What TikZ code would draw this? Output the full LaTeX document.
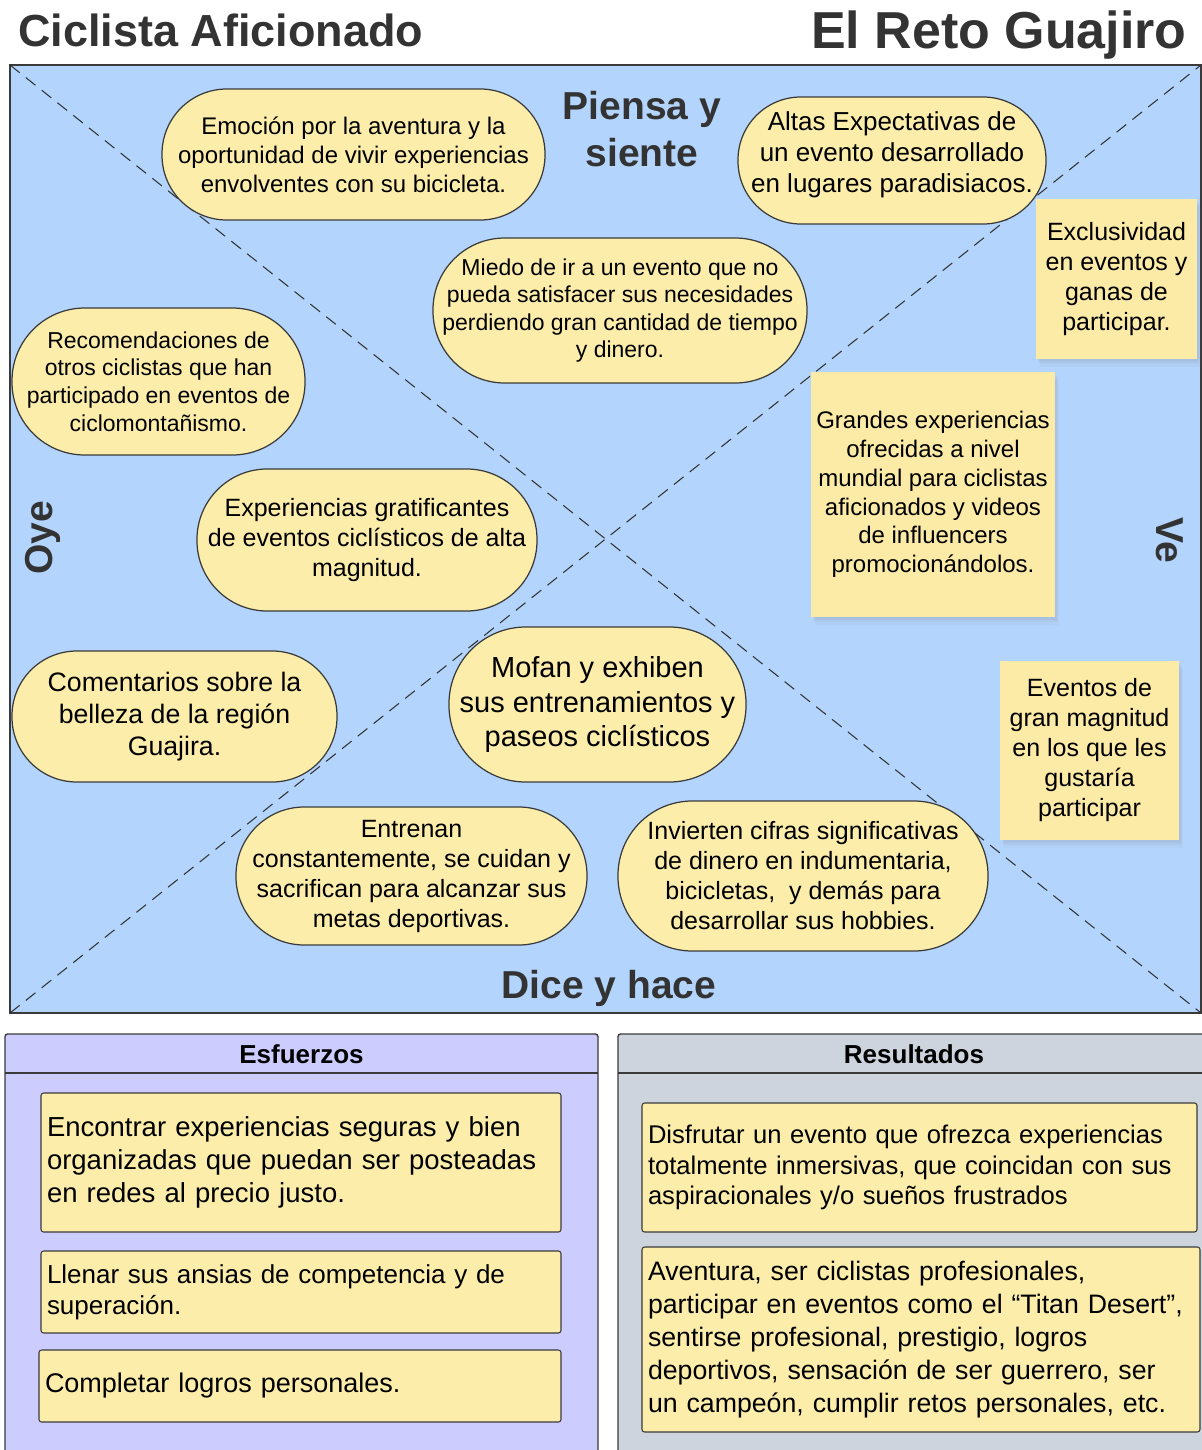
\documentclass[tikz,border=0pt]{standalone}
\usepackage{fontspec}
\setmainfont{Liberation Sans}
\usepackage{xfp}
\usetikzlibrary{shadows,calc}
\definecolor{mapInk}{HTML}{333333}
\definecolor{mapLine}{HTML}{3A3A3A}
\definecolor{mapBlueFill}{HTML}{B3D4FC}
\definecolor{mapBubbleFill}{HTML}{FCEEAA}
\definecolor{mapNoteFill}{HTML}{FCEBA6}
\definecolor{mapLilacFill}{HTML}{CCCCFF}
\definecolor{mapGreyFill}{HTML}{CDD4DE}
% font size in pixels of the sheet (1 px = 0.02 cm), line height 1.2
\newcommand\pxfont[1]{\fontsize{\fpeval{#1*0.569}}{\fpeval{#1*0.683}}\selectfont}
\tikzset{
  map/base/.style={text=black, align=center, inner sep=0pt},
  map/bubble/.style 2 args={map/base, draw=mapLine, line width=0.7pt,
    fill=mapBubbleFill, minimum width=#1*0.02cm, minimum height=#2*0.02cm,
    rounded corners=#2*0.0099cm},
  map/note/.style 2 args={map/base, fill=mapNoteFill,
    minimum width=#1*0.02cm, minimum height=#2*0.02cm,
    drop shadow={shadow xshift=1pt, shadow yshift=-1.5pt, opacity=0.08},
    drop shadow={shadow xshift=1.5pt, shadow yshift=-3pt, opacity=0.08},
    drop shadow={shadow xshift=2pt, shadow yshift=-4.5pt, opacity=0.06}},
  map/card/.style 2 args={draw=mapLine, line width=0.6pt, fill=mapBubbleFill,
    rounded corners=1.5pt, align=left, inner xsep=0.12cm, inner ysep=0pt,
    text width=#1*0.02cm-0.24cm, minimum height=#2*0.02cm},
  map/heading/.style={font=\bfseries\pxfont{39}, text=mapInk, align=center,
    inner sep=0pt},
  map/title/.style={font=\bfseries\pxfont{45}, text=mapInk, inner sep=0pt},
  map/panelhead/.style={font=\bfseries\pxfont{26}, text=black, inner sep=0pt},
  map/frame/.style={draw=mapLine, line width=0.8pt},
  map/diag/.style={draw=mapInk, line width=0.6pt, dash pattern=on 7pt off 4.5pt},
}

\begin{document}
\begin{tikzpicture}[x=0.02cm, y=-0.02cm]
\useasboundingbox (0,0) rectangle (1201,1450);
% titles
\node[map/title, anchor=base west] (persona) at (18,46) {Ciclista Aficionado};
\node[map/title, anchor=base east, font=\bfseries\pxfont{52}] (reto) at (1187,49) {El Reto Guajiro};

% empathy map quadrants
\coordinate (nw) at (10,65);
\coordinate (ne) at (1201,65);
\coordinate (sw) at (10,1013);
\coordinate (se) at (1201,1013);
\draw[map/frame, fill=mapBlueFill] (nw) rectangle (se);
\draw[map/diag] (nw) -- (se);
\draw[map/diag] (sw) -- (ne);

\node[map/heading] (piensa) at (642,129) {Piensa y\\siente};
\node[map/heading, anchor=base] (dice) at (609,998) {Dice y hace};
\node[map/heading, rotate=90] (oye) at (43,538) {Oye};
\node[map/heading, rotate=-90] (ve) at (1170,540) {Ve};

% thoughts and sayings
\node[map/bubble={383}{131}, font=\pxfont{24}] (emocion) at (353.5,154.5)
  {Emoción por la aventura y la\\oportunidad de vivir experiencias\\envolventes con su bicicleta.};
\node[map/bubble={308}{127}, font=\pxfont{26}] (altas) at (892,160.5)
  {Altas Expectativas de\\un evento desarrollado\\en lugares paradisiacos.\\[-8.5pt]\mbox{}};
\node[map/bubble={374}{145}, font=\pxfont{23}] (miedo) at (620,310.5)
  {Miedo de ir a un evento que no\\pueda satisfacer sus necesidades\\perdiendo gran cantidad de tiempo\\y dinero.};
\node[map/bubble={293}{147}, font=\pxfont{23}] (recomienda) at (158.5,381.5)
  {Recomendaciones de\\otros ciclistas que han\\participado en eventos de\\ciclomontañismo.};
\node[map/bubble={340}{142}, font=\pxfont{25}] (gratifica) at (367,540)
  {Experiencias gratificantes\\de eventos ciclísticos de alta\\magnitud.};
\node[map/bubble={325}{131}, font=\pxfont{26.7}] (belleza) at (174.5,716.5)
  {Comentarios sobre la\\belleza de la región\\Guajira.};
\node[map/bubble={297}{155}, font=\pxfont{29}] (mofan) at (597.5,704.5)
  {Mofan y exhiben\\sus entrenamientos y\\paseos ciclísticos};
\node[map/bubble={351}{138}, font=\pxfont{25}] (entrenan) at (411.5,876)
  {Entrenan\\constantemente, se cuidan y\\sacrifican para alcanzar sus\\metas deportivas.};
\node[map/bubble={370}{150}, font=\pxfont{25}] (invierten) at (803,876)
  {Invierten cifras significativas\\de dinero en indumentaria,\\bicicletas,\ \ y demás para\\desarrollar sus hobbies.};

% what they see
\node[map/note={161}{160}, font=\pxfont{25}] (exclusiva) at (1116.5,279)
  {Exclusividad\\en eventos y\\ganas de\\participar.};
\node[map/note={244}{245}, font=\pxfont{24}] (grandes) at (933,494.5)
  {Grandes experiencias\\ofrecidas a nivel\\mundial para ciclistas\\aficionados y videos\\de influencers\\promocionándolos.};
\node[map/note={179}{179}, font=\pxfont{25}] (eventos) at (1089.5,750.5)
  {Eventos de\\gran magnitud\\en los que les\\gustaría\\participar};

% efforts and results
\draw[map/frame, fill=mapLilacFill, rounded corners=1.5pt] (5,1034) rectangle (598,1470);
\draw[map/frame] (5,1073) -- (598,1073);
\draw[map/frame, fill=mapGreyFill, rounded corners=1.5pt] (618,1034) rectangle (1215,1470);
\draw[map/frame] (618,1073) -- (1215,1073);
\node[map/panelhead] (esfuerzos) at (301.5,1054) {Esfuerzos};
\node[map/panelhead] (resultados) at (914,1054) {Resultados};

\node[map/card={520}{139}, font=\pxfont{27.5}] (seguras) at (301,1162.5)
  {Encontrar experiencias seguras y bien\\organizadas que puedan ser posteadas\\en redes al precio justo.};
\node[map/card={520}{82}, font=\pxfont{26}] (ansias) at (301,1292)
  {Llenar sus ansias de competencia y de\\superación.};
\node[map/card={522}{72}, font=\pxfont{27}] (logros) at (300,1386)
  {Completar logros personales.};
\node[map/card={555}{129}, font=\pxfont{25.6}] (disfrutar) at (919.5,1167.5)
  {Disfrutar un evento que ofrezca experiencias\\totalmente inmersivas, que coincidan con sus\\aspiracionales y/o sueños frustrados};
\node[map/card={558}{185}, font=\fontsize{15.2}{18.8}\selectfont] (aventura) at (921,1339.5)
  {Aventura, ser ciclistas profesionales,\\participar en eventos como el “Titan Desert”,\\sentirse profesional, prestigio, logros\\deportivos, sensación de ser guerrero, ser\\un campeón, cumplir retos personales, etc.};
\end{tikzpicture}
\end{document}
